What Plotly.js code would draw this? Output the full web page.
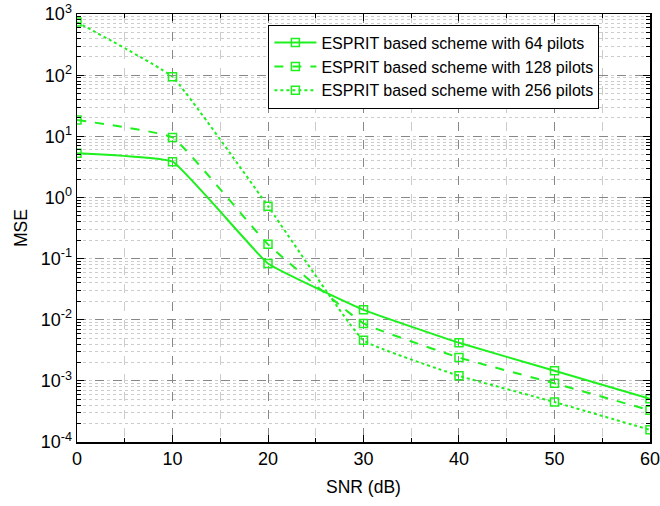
<!DOCTYPE html>
<html>
<head>
<script src="https://cdn.plot.ly/plotly-3.0.1.min.js"></script>
<style>html,body{margin:0;padding:0;background:#fff;}#chart{width:660px;height:506px;}</style>
</head>
<body>
<div id="chart"></div>
<script>
const snr = [0, 10, 20, 30, 40, 50, 60];
const mse64 = [5.3, 3.85, 0.083, 0.0145, 0.0042, 0.00146, 0.00051];
const mse128 = [18.5, 9.6, 0.171, 0.0087, 0.0024, 0.00091, 0.00033];
const mse256 = [740, 94, 0.72, 0.0046, 0.00121, 0.00045, 0.000158];
const xTickVals = [0, 10, 20, 30, 40, 50, 60];
const yTickVals = [1e-4, 1e-3, 1e-2, 1e-1, 1, 10, 100, 1000];
const yTickText = ['10<sup>-4</sup>', '10<sup>-3</sup>', '10<sup>-2</sup>', '10<sup>-1</sup>', '10<sup>0</sup>', '10<sup>1</sup>', '10<sup>2</sup>', '10<sup>3</sup>'];
const names = ['ESPRIT based scheme with 64 pilots', 'ESPRIT based scheme with 128 pilots', 'ESPRIT based scheme with 256 pilots'];
const dashes = ['solid', 'dash', 'dot'];
const green = '#1ef01e';
const series = [mse64, mse128, mse256];

const traces = series.map((ys, i) => ({
  x: snr, y: ys, name: names[i], type: 'scatter', mode: 'lines+markers',
  line: {color: green, width: 2, dash: dashes[i], shape: 'spline', smoothing: 0.3},
  marker: {symbol: 'square-open', size: 8, color: green, line: {width: 1.5, color: green}}
}));

const layout = {
  width: 660, height: 506,
  margin: {l: 77, r: 10, t: 14, b: 64},
  paper_bgcolor: '#fff', plot_bgcolor: '#fff',
  font: {family: 'Arial, Liberation Sans, sans-serif', color: '#000', size: 18},
  showlegend: true,
  legend: {x: 0.334, y: 0.975, xanchor: 'left', yanchor: 'top', bgcolor: '#fff',
    bordercolor: '#000', borderwidth: 1, font: {size: 16}, tracegroupgap: 0, itemwidth: 42},
  xaxis: {
    range: [0, 60.001], tickmode: 'array', tickvals: xTickVals, ticklabeloverflow: 'allow',
    ticks: 'inside', ticklen: 7, tickcolor: '#000', mirror: 'ticks',
    showline: true, linecolor: '#000', linewidth: 1.5,
    showgrid: true, gridcolor: '#888', griddash: 'dash', gridwidth: 1,
    zeroline: false,
    minor: {dtick: 5, tick0: 0, ticks: 'inside', ticklen: 4, tickcolor: '#000', showgrid: true, gridcolor: '#ccc', griddash: 'dash'},
    title: {text: 'SNR (dB)', font: {size: 17.5}, standoff: 12},
    tickfont: {size: 18}
  },
  yaxis: {
    type: 'log', range: [-4, 3.001], tickmode: 'array', tickvals: yTickVals, ticktext: yTickText, ticklabeloverflow: 'allow',
    ticks: 'inside', ticklen: 7, tickcolor: '#000', mirror: 'ticks',
    showline: true, linecolor: '#000', linewidth: 1.5,
    showgrid: true, gridcolor: '#888', griddash: 'dash', gridwidth: 1,
    zeroline: false,
    minor: {dtick: 'D1', ticks: 'inside', ticklen: 4, tickcolor: '#000', showgrid: true, gridcolor: '#ccc', griddash: 'dot'},
    title: {text: 'MSE', font: {size: 17.5}, standoff: 8},
    tickfont: {size: 18}
  }
};

Plotly.newPlot('chart', traces, layout, {staticPlot: true, displayModeBar: false});
</script>
</body>
</html>
